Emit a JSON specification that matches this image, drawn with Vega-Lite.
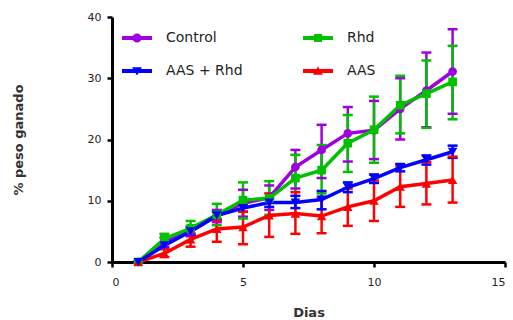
{
  "$schema": "https://vega.github.io/schema/vega-lite/v6.json",
  "width": 393,
  "height": 245,
  "autosize": {"type": "none"},
  "padding": {"left": 112, "top": 17, "right": 8, "bottom": 58},
  "background": "white",
  "data": {"values": [
    {"series": "Control", "day": 1, "mean": 0, "lo": 0, "hi": 0},
    {"series": "Control", "day": 2, "mean": 3.2, "lo": 2.5, "hi": 4.0},
    {"series": "Control", "day": 3, "mean": 5.0, "lo": 4.2, "hi": 5.8},
    {"series": "Control", "day": 4, "mean": 7.5, "lo": 6.5, "hi": 8.5},
    {"series": "Control", "day": 5, "mean": 9.6, "lo": 7.4, "hi": 11.8},
    {"series": "Control", "day": 6, "mean": 10.5, "lo": 8.5, "hi": 12.5},
    {"series": "Control", "day": 7, "mean": 15.5, "lo": 12.0, "hi": 18.3},
    {"series": "Control", "day": 8, "mean": 18.3, "lo": 13.7, "hi": 22.4},
    {"series": "Control", "day": 9, "mean": 21.0, "lo": 16.4, "hi": 25.3},
    {"series": "Control", "day": 10, "mean": 21.5, "lo": 16.8, "hi": 26.3},
    {"series": "Control", "day": 11, "mean": 25.0, "lo": 20.0, "hi": 30.0},
    {"series": "Control", "day": 12, "mean": 28.0, "lo": 22.0, "hi": 34.2},
    {"series": "Control", "day": 13, "mean": 31.1, "lo": 24.2, "hi": 38.0},
    {"series": "Rhd", "day": 1, "mean": 0, "lo": 0, "hi": 0},
    {"series": "Rhd", "day": 2, "mean": 3.8, "lo": 3.0, "hi": 4.6},
    {"series": "Rhd", "day": 3, "mean": 5.5, "lo": 4.5, "hi": 6.7},
    {"series": "Rhd", "day": 4, "mean": 7.7, "lo": 6.0, "hi": 9.5},
    {"series": "Rhd", "day": 5, "mean": 10.1, "lo": 7.1, "hi": 13.0},
    {"series": "Rhd", "day": 6, "mean": 10.4, "lo": 7.7, "hi": 13.2},
    {"series": "Rhd", "day": 7, "mean": 13.7, "lo": 9.8, "hi": 17.5},
    {"series": "Rhd", "day": 8, "mean": 15.0, "lo": 11.2, "hi": 19.1},
    {"series": "Rhd", "day": 9, "mean": 19.4, "lo": 14.7, "hi": 24.0},
    {"series": "Rhd", "day": 10, "mean": 21.6, "lo": 16.2, "hi": 27.0},
    {"series": "Rhd", "day": 11, "mean": 25.6, "lo": 21.0, "hi": 30.4},
    {"series": "Rhd", "day": 12, "mean": 27.5, "lo": 21.9, "hi": 32.9},
    {"series": "Rhd", "day": 13, "mean": 29.4, "lo": 23.3, "hi": 35.3},
    {"series": "AAS", "day": 1, "mean": 0, "lo": 0, "hi": 0},
    {"series": "AAS", "day": 2, "mean": 1.4, "lo": 0.8, "hi": 2.1},
    {"series": "AAS", "day": 3, "mean": 3.7, "lo": 2.5, "hi": 4.7},
    {"series": "AAS", "day": 4, "mean": 5.4, "lo": 3.3, "hi": 6.8},
    {"series": "AAS", "day": 5, "mean": 5.7, "lo": 2.9, "hi": 8.2},
    {"series": "AAS", "day": 6, "mean": 7.6, "lo": 4.1, "hi": 11.2},
    {"series": "AAS", "day": 7, "mean": 7.9, "lo": 4.6, "hi": 11.4},
    {"series": "AAS", "day": 8, "mean": 7.5, "lo": 4.7, "hi": 10.6},
    {"series": "AAS", "day": 9, "mean": 9.0, "lo": 5.9, "hi": 12.0},
    {"series": "AAS", "day": 10, "mean": 10.0, "lo": 6.7, "hi": 13.3},
    {"series": "AAS", "day": 11, "mean": 12.3, "lo": 9.0, "hi": 15.6},
    {"series": "AAS", "day": 12, "mean": 12.8, "lo": 9.4, "hi": 16.3},
    {"series": "AAS", "day": 13, "mean": 13.4, "lo": 9.7, "hi": 17.2},
    {"series": "AAS + Rhd", "day": 1, "mean": 0, "lo": 0, "hi": 0},
    {"series": "AAS + Rhd", "day": 2, "mean": 2.7, "lo": 2.2, "hi": 3.2},
    {"series": "AAS + Rhd", "day": 3, "mean": 5.0, "lo": 4.4, "hi": 5.6},
    {"series": "AAS + Rhd", "day": 4, "mean": 7.6, "lo": 7.0, "hi": 8.2},
    {"series": "AAS + Rhd", "day": 5, "mean": 8.8, "lo": 8.2, "hi": 9.4},
    {"series": "AAS + Rhd", "day": 6, "mean": 9.7, "lo": 9.0, "hi": 10.4},
    {"series": "AAS + Rhd", "day": 7, "mean": 9.7, "lo": 8.8, "hi": 10.8},
    {"series": "AAS + Rhd", "day": 8, "mean": 10.2, "lo": 8.6, "hi": 11.6},
    {"series": "AAS + Rhd", "day": 9, "mean": 12.2, "lo": 11.4, "hi": 13.0},
    {"series": "AAS + Rhd", "day": 10, "mean": 13.6, "lo": 12.9, "hi": 14.3},
    {"series": "AAS + Rhd", "day": 11, "mean": 15.4, "lo": 14.8, "hi": 16.0},
    {"series": "AAS + Rhd", "day": 12, "mean": 16.7, "lo": 15.9, "hi": 17.4},
    {"series": "AAS + Rhd", "day": 13, "mean": 18.0, "lo": 17.0, "hi": 19.0}
  ]},
  "encoding": {
    "x": {"field": "day", "type": "quantitative",
      "scale": {"domain": [0, 15], "nice": false, "zero": false},
      "axis": {"values": [0, 5, 10, 15], "title": "Dias", "titlePadding": 19}},
    "color": {"field": "series", "type": "nominal", "title": null,
      "scale": {"domain": ["Control", "AAS + Rhd", "Rhd", "AAS"],
                "range": ["#A000E0", "#0000FF", "#00C000", "#FF0000"]}}
  },
  "layer": [
    {"mark": {"type": "rule", "strokeWidth": 2.5, "opacity": 1},
     "encoding": {
       "y": {"field": "lo", "type": "quantitative",
         "scale": {"domain": [0, 40], "nice": false},
         "axis": {"values": [0, 10, 20, 30, 40], "title": "% peso ganado", "titlePadding": 62}},
       "y2": {"field": "hi"}}},
    {"mark": {"type": "tick", "orient": "horizontal", "size": 10, "thickness": 2.5, "opacity": 1},
     "encoding": {"y": {"field": "lo", "type": "quantitative"}}},
    {"mark": {"type": "tick", "orient": "horizontal", "size": 10, "thickness": 2.5, "opacity": 1},
     "encoding": {"y": {"field": "hi", "type": "quantitative"}}},
    {"mark": {"type": "line", "strokeWidth": 3.5},
     "encoding": {"y": {"field": "mean", "type": "quantitative"}}},
    {"transform": [{"filter": "datum.series == 'Control'"}],
     "mark": {"type": "point", "shape": "circle", "filled": true, "size": 75, "opacity": 1},
     "encoding": {"y": {"field": "mean", "type": "quantitative"}}},
    {"transform": [{"filter": "datum.series == 'Rhd'"}],
     "mark": {"type": "point", "shape": "square", "filled": true, "size": 75, "opacity": 1},
     "encoding": {"y": {"field": "mean", "type": "quantitative"}}},
    {"transform": [{"filter": "datum.series == 'AAS'"}],
     "mark": {"type": "point", "shape": "triangle-up", "filled": true, "size": 90, "opacity": 1},
     "encoding": {"y": {"field": "mean", "type": "quantitative"}}},
    {"transform": [{"filter": "datum.series == 'AAS + Rhd'"}],
     "mark": {"type": "point", "shape": "triangle-down", "filled": true, "size": 90, "opacity": 1},
     "encoding": {"y": {"field": "mean", "type": "quantitative"}}},
    {"mark": {"type": "point", "filled": true, "opacity": 0},
     "encoding": {
       "y": {"field": "mean", "type": "quantitative"},
       "shape": {"field": "series", "type": "nominal", "title": null,
         "scale": {"domain": ["Control", "AAS + Rhd", "Rhd", "AAS"],
           "range": [
             "M-1,-0.13H1V0.13H-1Z M-0.3,0A0.3,0.3 0 1,1 0.3,0A0.3,0.3 0 1,1 -0.3,0Z",
             "M-1,-0.13H1V0.13H-1Z M-0.33,-0.25H0.33L0,0.3Z",
             "M-1,-0.13H1V0.13H-1Z M-0.27,-0.27H0.27V0.27H-0.27Z",
             "M-1,-0.13H1V0.13H-1Z M-0.33,0.25L0,-0.3L0.33,0.25Z"
           ]}}
     }}
  ],
  "config": {
    "view": {"stroke": null},
    "font": "DejaVu Sans",
    "axis": {
      "grid": false,
      "domainColor": "#000000",
      "domainWidth": 3,
      "tickColor": "#000000",
      "tickWidth": 2.5,
      "tickSize": 5,
      "labelFont": "DejaVu Sans",
      "labelFontSize": 11,
      "labelColor": "#222222",
      "labelPadding": 6,
      "titleFont": "DejaVu Sans",
      "titleFontSize": 13,
      "titleFontWeight": "bold",
      "titleColor": "#333333"
    },
    "axisX": {"labelPadding": 9},
    "legend": {
      "orient": "none",
      "legendX": 10,
      "legendY": 6,
      "columns": 2,
      "columnPadding": 60,
      "rowPadding": 11,
      "padding": 0,
      "symbolSize": 900,
      "symbolOpacity": 1,
      "symbolStrokeWidth": 0,
      "labelFont": "DejaVu Sans",
      "labelFontSize": 14,
      "labelColor": "#222222",
      "labelOffset": 14
    }
  }
}
